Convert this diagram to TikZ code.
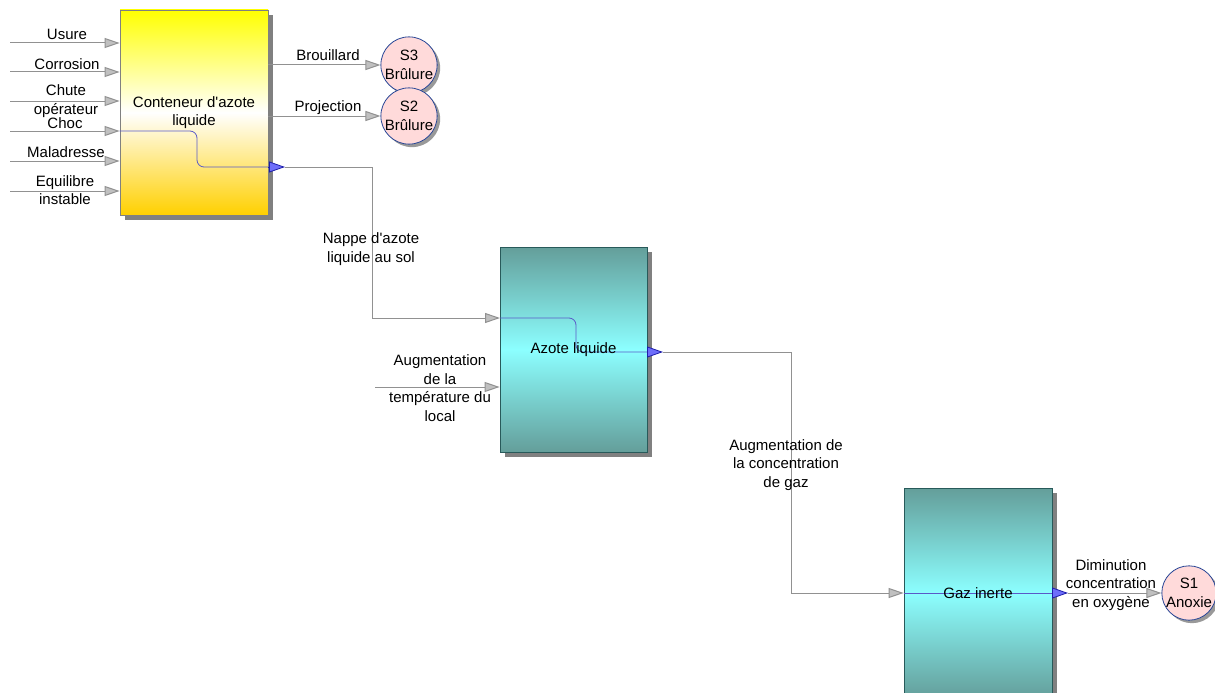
\documentclass[tikz,border=0pt]{standalone}
\usepackage{fontspec}
\setmainfont{Liberation Sans}
\usetikzlibrary{arrows.meta,shadows}

\definecolor{wiregray}{RGB}{145,145,145}
\definecolor{tipfill}{RGB}{192,192,192}
\definecolor{bluewire}{RGB}{90,90,200}
\definecolor{bluefill}{RGB}{110,110,250}
\definecolor{blueedge}{RGB}{30,30,170}
\definecolor{ytop}{RGB}{255,255,0}
\definecolor{ybot}{RGB}{255,208,0}
\definecolor{tealdark}{RGB}{100,158,154}
\definecolor{teallight}{RGB}{140,255,255}
\definecolor{tealedge}{RGB}{40,90,90}
\definecolor{pinkfill}{RGB}{255,218,218}
\definecolor{navy}{RGB}{40,70,150}
\definecolor{shadowgray}{RGB}{128,128,128}

\tikzset{
  txt/.style={font=\fontsize{15}{18.5}\selectfont, inner sep=0pt, align=center},
  blockshadow/.style={drop shadow={shadow xshift=5pt, shadow yshift=-5pt, fill=shadowgray, opacity=1}},
  ybox/.style={rectangle, draw=shadowgray, line width=0.8pt,
    top color=ytop, bottom color=ybot, middle color=white, blockshadow, txt},
  tbox/.style={rectangle, draw=tealedge, line width=0.8pt,
    top color=tealdark, bottom color=tealdark, middle color=teallight, blockshadow, txt},
  sev/.style={circle, draw=navy, line width=0.8pt, fill=pinkfill, minimum size=48pt,
    inner sep=0pt, txt,
    drop shadow={shadow xshift=3pt, shadow yshift=-3pt, fill=shadowgray, opacity=0.8}},
  flow/.style={draw=wiregray, line width=1pt,
    -{Triangle[length=15pt,width=10pt,fill=tipfill]}},
  outtip/.style={draw=blueedge, line width=0.8pt,
    -{Triangle[length=16pt,width=11pt,fill=bluefill]}},
  inner/.style={draw=bluewire, line width=0.8pt, rounded corners=7pt},
}

\begin{document}
\begin{tikzpicture}[x=1pt,y=-1pt]
  \path[use as bounding box, clip] (0,0) rectangle (1215,693);

  % blocks
  \node[ybox, minimum width=148pt, minimum height=205pt] (c1) at (194,112.5) {};
  \node[tbox, minimum width=147pt, minimum height=205pt] (c2) at (573.5,349.5) {};
  \node[tbox, minimum width=148pt, minimum height=210pt] (c3) at (978,593) {};

  % severity circles
  \node[sev] (s3) at (409,65) {S3\\Brûlure};
  \node[sev] (s2) at (409,116) {S2\\Brûlure};
  \node[sev] (s1) at (1189,593) {S1\\Anoxie};

  % ports
  \coordinate (i1) at (10,43);
  \coordinate (i2) at (10,72);
  \coordinate (i3) at (10,101);
  \coordinate (i4) at (10,131);
  \coordinate (i5) at (10,161);
  \coordinate (i6) at (10,191);
  \coordinate (o1) at (268,167);
  \coordinate (o1s) at (285,167);
  \coordinate (bend1) at (372,167);
  \coordinate (in2a) at (500,318);
  \coordinate (j2) at (375,387);
  \coordinate (m1) at (197,131);
  \coordinate (o2) at (647,352);
  \coordinate (o2s) at (663,352);
  \coordinate (bend2) at (791,352);
  \coordinate (m2) at (576,318);
  \coordinate (o3) at (1052,593);
  \coordinate (o3s) at (1068,593);

  % internal paths through the blocks
  \draw[inner] (i4 -| c1.west) -- (m1) -- (m1 |- o1) -- (o1);
  \draw[inner] (in2a) -- (m2) -- (m2 |- o2) -- (o2);
  \draw[inner] (c3.west) -- (o3);

  % block text
  \node[txt] (t1) at (c1.center) {Conteneur d\textquotesingle{}azote\\liquide};
  \node[txt] (t2) at (c2.center) {Azote liquide};
  \node[txt] (t3) at (c3.center) {Gaz inerte};

  % inputs of the container
  \draw[flow] (i1) -- (i1 -| c1.west);
  \draw[flow] (i2) -- (i2 -| c1.west);
  \draw[flow] (i3) -- (i3 -| c1.west);
  \draw[flow] (i4) -- (i4 -| c1.west);
  \draw[flow] (i5) -- (i5 -| c1.west);
  \draw[flow] (i6) -- (i6 -| c1.west);

  \node[txt] (l1) at (67,34) {Usure};
  \node[txt] (l2) at (67,64) {Corrosion};
  \node[txt] (l3) at (66,101) {Chute\\opérateur};
  \node[txt] (l4) at (65,123) {Choc};
  \node[txt] (l5) at (66,152) {Maladresse};
  \node[txt] (l6) at (65,190) {Equilibre\\instable};

  % outputs of the container
  \draw[flow] (s3.west -| c1.east) -- (s3.west);
  \draw[flow] (s2.west -| c1.east) -- (s2.west);
  \node[txt] (l7) at (328,55) {Brouillard};
  \node[txt] (l8) at (328,108) {Projection};

  \draw[outtip] (o1) -- (o1s);
  \draw[flow] (o1s) -- (bend1) |- (in2a);
  \node[txt] (l9) at (371,249) {Nappe d\textquotesingle{}azote\\liquide au sol};

  % second input of the liquid nitrogen block
  \draw[flow] (j2) -- (j2 -| c2.west);
  \node[txt] (l10) at (440,388) {Augmentation\\de la\\température du\\local};

  % liquid nitrogen to inert gas
  \draw[outtip] (o2) -- (o2s);
  \draw[flow] (o2s) -- (bend2) |- (c3.west);
  \node[txt] (l11) at (786,465) {Augmentation de\\la concentration\\de gaz};

  % inert gas to anoxia
  \draw[outtip] (o3) -- (o3s);
  \draw[flow] (o3s) -- (s1.west);
  \node[txt] (l12) at (1111,585) {Diminution\\concentration\\en oxygène};
\end{tikzpicture}
\end{document}
